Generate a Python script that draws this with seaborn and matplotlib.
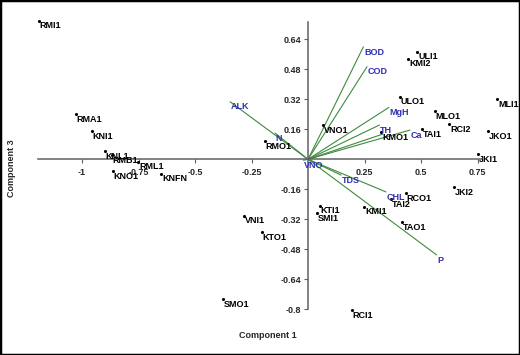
import matplotlib
matplotlib.use("Agg")
import matplotlib.pyplot as plt
from matplotlib.patches import Rectangle
import pandas as pd
import seaborn as sns

# site scores (component 1, component 3)
sites = ["RMI1", "RMA1", "KNI1", "KNL1", "RMB1", "RML1", "KNO1", "KNFN",
         "RMO1", "VNO1", "ULI1", "KMI2", "ULO1", "MLO1", "RCI2", "TAI1",
         "KMO1", "MLI1", "JKO1", "JKI1", "RCO1", "TAI2", "JKI2", "KMI1",
         "TAO1", "KTI1", "SMI1", "KTO1", "VNI1", "SMO1", "RCI1"]
pc1 = [-1.190, -1.028, -0.957, -0.898, -0.867, -0.751, -0.864, -0.649,
       -0.190, 0.068, 0.484, 0.444, 0.407, 0.560, 0.625, 0.503,
       0.325, 0.838, 0.796, 0.754, 0.432, 0.366, 0.646, 0.249,
       0.417, 0.053, 0.038, -0.205, -0.282, -0.377, 0.193]
pc3 = [0.739, 0.240, 0.151, 0.044, 0.023, -0.013, -0.062, -0.077,
       0.098, 0.183, 0.574, 0.537, 0.334, 0.256, 0.188, 0.160,
       0.146, 0.322, 0.151, 0.028, -0.181, -0.213, -0.149, -0.253,
       -0.334, -0.247, -0.288, -0.389, -0.301, -0.747, -0.804]

# variable loadings
variables = ["BOD", "COD", "MgH", "TH", "Ca", "", "ALK", "N", "VNO",
             "TDS", "CHL", "P"]
load1 = [0.245, 0.261, 0.358, 0.316, 0.451, 0.332, -0.345, -0.146, -0.020,
         0.146, 0.345, 0.569]
load3 = [0.600, 0.494, 0.277, 0.183, 0.156, 0.135, 0.307, 0.140, -0.005,
         -0.084, -0.174, -0.510]

x_ticks = [-1, -0.75, -0.5, -0.25, 0.25, 0.5, 0.75]
x_tick_labels = ["-1", "-0.75", "-0.5", "-0.25", "0.25", "0.5", "0.75"]
y_ticks = [-0.8, -0.64, -0.48, -0.32, -0.16, 0.16, 0.32, 0.48, 0.64]
y_tick_labels = ["-0.8", "-0.64", "-0.48", "-0.32", "-0.16",
                 "0.16", "0.32", "0.48", "0.64"]

sns.set_style("white")
plt.rcParams['font.family'] = ['Liberation Sans', 'DejaVu Sans']
plt.rcParams['font.weight'] = 'bold'
plt.rcParams['font.size'] = 6.5

df = pd.DataFrame({"site": sites, "pc1": pc1, "pc3": pc3})

fig = plt.figure(figsize=(5.2, 3.55), dpi=100)
ax = fig.add_axes([0, 0, 1, 1])

# loading lines
line_col = "#3f8a3f"
lab_col = "#2f2fb5"
for name, lx, ly in zip(variables, load1, load3):
    ax.plot([0, lx], [0, ly], color=line_col, lw=0.8, zorder=2)
    if name:
        ax.annotate(name, (lx, ly), xytext=(0.5, -0.5), textcoords="offset points",
                    ha="left", va="top", color=lab_col, fontsize=6.5,
                    fontweight="bold", zorder=4)

sns.scatterplot(data=df, x="pc1", y="pc3", color="black", s=5, linewidth=0,
                legend=False, ax=ax, zorder=3)
for name, sx, sy in zip(sites, pc1, pc3):
    ax.annotate(name, (sx, sy), xytext=(0.5, -0.5), textcoords="offset points",
                ha="left", va="top", color="black", fontsize=6.5,
                fontweight="bold", zorder=4)

ax.set_xlim(-1.363, 0.938)
ax.set_ylim(-1.044, 0.850)
ax.set_xlabel("")
ax.set_ylabel("")

for side in ["top", "right"]:
    ax.spines[side].set_visible(False)
ax.spines["left"].set_position(("data", 0))
ax.spines["bottom"].set_position(("data", 0))
ax.spines["left"].set_bounds(-0.8, 0.735)
ax.spines["bottom"].set_bounds(-1.195, 0.77)
for side in ["left", "bottom"]:
    ax.spines[side].set_color("#606060")
    ax.spines[side].set_linewidth(1.1)

ax.set_xticks(x_ticks)
ax.set_xticklabels(x_tick_labels)
ax.set_yticks(y_ticks)
ax.set_yticklabels(y_tick_labels)
ax.tick_params(axis="both", direction="out", length=3, width=0.8,
               color="#606060", labelsize=6.5, pad=2)
ax.tick_params(axis="x", pad=3)
ax.tick_params(left=True, bottom=True)

fig.text(268 / 520, 1 - 336 / 355, "Component 1", ha="center", va="center",
         fontsize=6.5, fontweight="bold")
fig.text(12 / 520, 1 - 168 / 355, "Component 3", ha="center", va="center",
         rotation=90, fontsize=6.5, fontweight="bold")

fig.patches.append(Rectangle((0, 0), 1, 1, transform=fig.transFigure,
                             fill=False, edgecolor="black", lw=2.5))

fig.savefig("out.png", dpi=100)
